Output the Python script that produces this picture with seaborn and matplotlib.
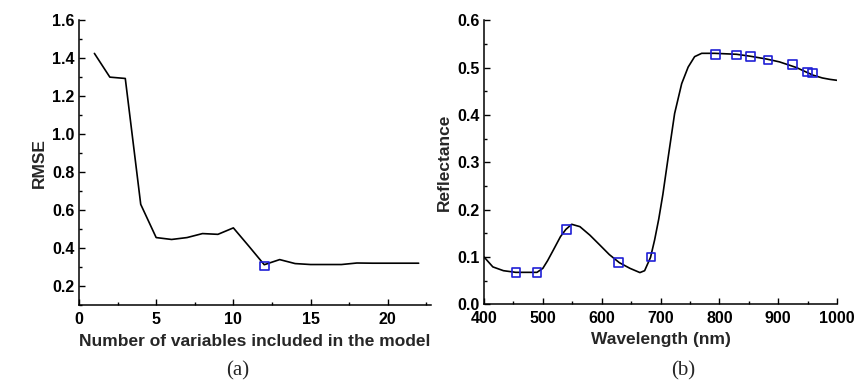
import matplotlib
matplotlib.use("Agg")
import matplotlib.pyplot as plt
from matplotlib.ticker import MultipleLocator
import seaborn as sns
import pandas as pd

# ---- data ----
n_vars = list(range(1, 23))
rmse = [1.425, 1.30, 1.293, 0.63, 0.455, 0.445, 0.455, 0.476, 0.472, 0.506,
        0.41, 0.312, 0.339, 0.318, 0.313, 0.313, 0.313, 0.321, 0.32, 0.32, 0.32, 0.32]
best_n = [12]
best_rmse = [0.305]

wavelength = [400, 415, 433, 454, 490, 500, 508, 518, 530, 539, 549, 563, 580, 597, 613, 630,
              648, 665, 673, 683, 690, 697, 704, 713, 724, 736, 747, 758, 770, 792,
              829, 852, 880, 902, 931, 959, 975, 988, 1000]
reflectance = [0.100, 0.079, 0.071, 0.0675, 0.0675, 0.076, 0.092, 0.115, 0.143, 0.158, 0.169, 0.164,
               0.146, 0.125, 0.105, 0.088, 0.076, 0.067, 0.071, 0.099, 0.136, 0.180,
               0.232, 0.310, 0.403, 0.466, 0.501, 0.523, 0.530, 0.530, 0.528, 0.524,
               0.518, 0.512, 0.500, 0.484, 0.478, 0.475, 0.473]
sel_wl = [454, 490, 540, 629, 683.5, 793, 829.5, 852.7, 883, 924.6, 949.5, 958]
sel_refl = [0.0668, 0.0675, 0.1576, 0.088, 0.0999, 0.528, 0.526, 0.523, 0.516, 0.506, 0.491, 0.488]

sns.set_style("ticks")
plt.rcParams['font.family'] = ['Liberation Sans', 'DejaVu Sans']

fig = plt.figure(figsize=(8.62, 3.88), dpi=100)
axA = fig.add_axes([0.0916, 0.214, 0.4084, 0.734])
axB = fig.add_axes([0.5615, 0.2157, 0.4095, 0.7323])

df_a = pd.DataFrame({"n": n_vars, "rmse": rmse})
df_a_sel = pd.DataFrame({"n": best_n, "rmse": best_rmse})
df_b = pd.DataFrame({"wl": wavelength, "r": reflectance})
df_b_sel = pd.DataFrame({"wl": sel_wl, "r": sel_refl})

sq_kw = dict(marker="s", s=38, facecolor="none", edgecolor="#1f1fd6", linewidth=1.2, zorder=5)

sns.lineplot(data=df_a, x="n", y="rmse", ax=axA, color="black", linewidth=1.2)
sns.scatterplot(data=df_a_sel, x="n", y="rmse", ax=axA, **sq_kw)
sns.lineplot(data=df_b, x="wl", y="r", ax=axB, color="black", linewidth=1.2)
sns.scatterplot(data=df_b_sel, x="wl", y="r", ax=axB, **sq_kw)

axA.set_xlim(0, 22.8)
axA.set_ylim(0.1, 1.6)
axA.xaxis.set_major_locator(MultipleLocator(5))
axA.xaxis.set_minor_locator(MultipleLocator(2.5))
axA.yaxis.set_minor_locator(MultipleLocator(0.1))
axA.set_yticks([0.2, 0.4, 0.6, 0.8, 1.0, 1.2, 1.4, 1.6])
axA.set_yticklabels(["0.2", "0.4", "0.6", "0.8", "1.0", "1.2", "1.4", "1.6"])
axA.set_xlabel("Number of variables included in the model", fontsize=12.5, fontweight="bold", labelpad=5)
axA.set_ylabel("RMSE", fontsize=12.5, fontweight="bold", labelpad=4)

axB.set_xlim(400, 1000)
axB.set_ylim(0, 0.6)
axB.xaxis.set_major_locator(MultipleLocator(100))
axB.xaxis.set_minor_locator(MultipleLocator(50))
axB.yaxis.set_major_locator(MultipleLocator(0.1))
axB.yaxis.set_minor_locator(MultipleLocator(0.05))
axB.yaxis.set_major_formatter(matplotlib.ticker.FormatStrFormatter("%.1f"))
axB.set_xlabel("Wavelength (nm)", fontsize=12.5, fontweight="bold", labelpad=4)
axB.set_ylabel("Reflectance", fontsize=12.5, fontweight="bold", labelpad=4)

for ax in (axA, axB):
    sns.despine(ax=ax)
    for s in ("left", "bottom"):
        ax.spines[s].set_linewidth(1.1)
        ax.spines[s].set_color("black")
    ax.tick_params(which="major", direction="in", length=4, width=1, labelsize=11.5, colors="black")
    ax.tick_params(axis="x", which="major", pad=5)
    ax.tick_params(axis="y", which="major", pad=3)
    ax.tick_params(which="minor", direction="in", length=2.5, width=1, colors="black")
    for lab in ax.get_xticklabels() + ax.get_yticklabels():
        lab.set_fontweight("bold")

fig.text(0.276, 0.044, "(a)", ha="center", va="center", fontsize=15, family=["Liberation Serif", "DejaVu Serif"])
fig.text(0.792, 0.044, "(b)", ha="center", va="center", fontsize=15, family=["Liberation Serif", "DejaVu Serif"])

fig.savefig("out.png", dpi=100)
